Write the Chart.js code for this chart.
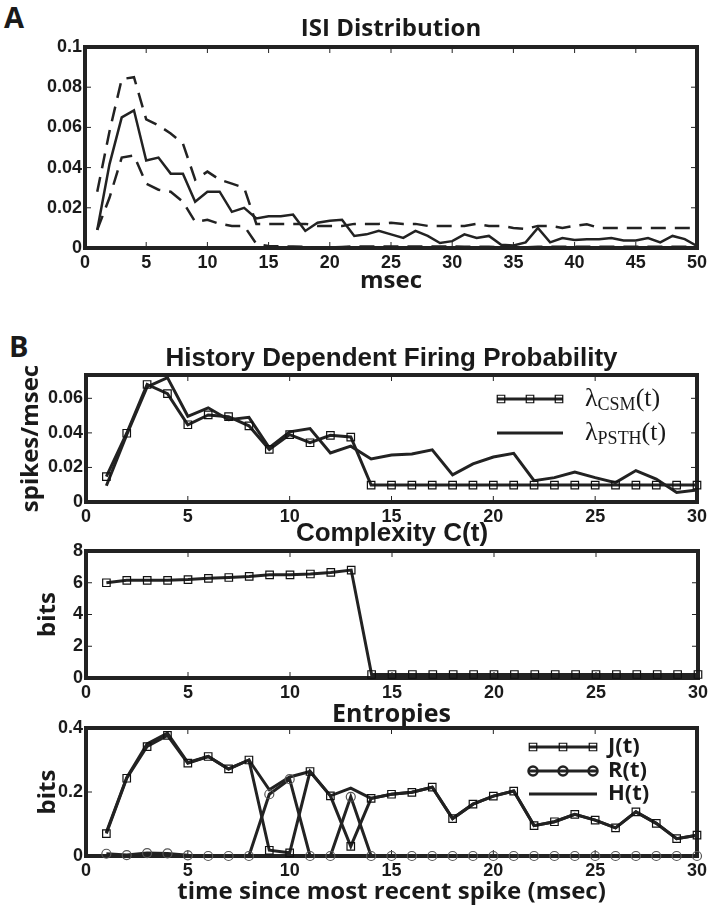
<!DOCTYPE html>
<html>
<head>
<meta charset="utf-8">
<script src="https://cdn.jsdelivr.net/npm/chart.js@4.4.0/dist/chart.umd.min.js"></script>
<style>
    body { margin: 0; background: #fff; }
    #figure { position: relative; width: 713px; height: 907px; background: #fff; overflow: hidden; }
    #figure canvas { position: absolute; left: 0; }
    .panel-letter { position: absolute; font: bold 29px "Open Sans", sans-serif; color: #1a1a1a; line-height: 30px; }
</style>
</head>
<body>
<div id="figure">
    <div class="panel-letter" style="left:4px; top:2px;">A</div>
    <div class="panel-letter" style="left:9px; top:331px;">B</div>
    <canvas id="isi_chart" width="713" height="300" style="top:0px;"></canvas>
    <canvas id="firing_chart" width="713" height="195" style="top:330px;"></canvas>
    <canvas id="complexity_chart" width="713" height="200" style="top:500px;"></canvas>
    <canvas id="entropy_chart" width="713" height="217" style="top:690px;"></canvas>
</div>
<script>
// ---- data ----
// A: ISI distribution (mean and confidence bounds)
const isiMsec = [1, 2, 3, 4, 5, 6, 7, 8, 9, 10, 11, 12, 13, 14, 15, 16, 17, 18, 19, 20, 21, 22, 23, 24, 25,
    26, 27, 28, 29, 30, 31, 32, 33, 34, 35, 36, 37, 38, 39, 40, 41, 42, 43, 44, 45, 46, 47, 48, 49, 50];
const isiMean = [0.009, 0.0416, 0.065, 0.0685, 0.0435, 0.045, 0.037, 0.037, 0.023, 0.028, 0.028, 0.018, 0.020,
    0.0147, 0.0158, 0.0158, 0.0166, 0.0085, 0.0126, 0.0135, 0.014, 0.006, 0.0068, 0.0086, 0.0068, 0.005,
    0.0085, 0.006, 0.0025, 0.0034, 0.0068, 0.005, 0.006, 0.0016, 0.0013, 0.0028, 0.010, 0.0028, 0.005,
    0.004, 0.0044, 0.0044, 0.005, 0.0037, 0.0037, 0.005, 0.0028, 0.006, 0.0044, 0.001];
const isiUpper = [0.028, 0.058, 0.084, 0.085, 0.064, 0.061, 0.057, 0.052, 0.034, 0.038, 0.034, 0.032, 0.030,
    0.012, 0.012, 0.012, 0.012, 0.012, 0.011, 0.011, 0.011, 0.012, 0.012, 0.012, 0.0125, 0.012, 0.012,
    0.011, 0.011, 0.011, 0.011, 0.012, 0.011, 0.011, 0.010, 0.0095, 0.011, 0.011, 0.010, 0.011, 0.0118,
    0.010, 0.010, 0.010, 0.010, 0.010, 0.010, 0.010, 0.010, 0.010];
const isiLower = [0.009, 0.025, 0.045, 0.046, 0.032, 0.029, 0.028, 0.023, 0.013, 0.014, 0.012, 0.011, 0.011,
    0.002, 0.001, 0.0008, 0.0008, 0.0005, 0.0003, 0.0003, 0.0005, 0.0008, 0.0008, 0.0008, 0.0008, 0.0008,
    0.0008, 0.0008, 0.0008, 0.0008, 0.0006, 0.0006, 0.0006, 0.0004, 0.0003, 0.0004, 0.0006, 0.0006, 0.0006,
    0.0006, 0.0006, 0.0006, 0.0006, 0.0006, 0.0006, 0.0006, 0.0006, 0.0006, 0.0006, 0.0006];
const isiXTicks = [0, 5, 10, 15, 20, 25, 30, 35, 40, 45, 50];
const isiYTicks = [0, 0.02, 0.04, 0.06, 0.08, 0.1];

// B: time since most recent spike
const lagMsec = [1, 2, 3, 4, 5, 6, 7, 8, 9, 10, 11, 12, 13, 14, 15, 16, 17, 18, 19, 20, 21, 22, 23, 24, 25,
    26, 27, 28, 29, 30];
const lagXTicks = [0, 5, 10, 15, 20, 25, 30];

const lambdaCsm = [0.0147, 0.0398, 0.068, 0.0627, 0.0447, 0.0504, 0.0494, 0.0441, 0.0304, 0.039, 0.0343,
    0.0386, 0.0376, 0.0098, 0.0098, 0.0098, 0.0098, 0.0098, 0.0098, 0.0098, 0.0098, 0.0098, 0.0098, 0.0098,
    0.0098, 0.0098, 0.0098, 0.0098, 0.0098, 0.0098];
const lambdaPsth = [0.0094, 0.039, 0.0666, 0.072, 0.0496, 0.0545, 0.0476, 0.049, 0.0314, 0.0406, 0.0425,
    0.0284, 0.0323, 0.0249, 0.0272, 0.0278, 0.0302, 0.0157, 0.0221, 0.026, 0.0282, 0.0123, 0.0141, 0.0174,
    0.0141, 0.0112, 0.0182, 0.0133, 0.0055, 0.007];
const firingYTicks = [0, 0.02, 0.04, 0.06];

const complexity = [6.0, 6.15, 6.15, 6.15, 6.2, 6.28, 6.33, 6.4, 6.5, 6.5, 6.55, 6.65, 6.8, 0.22, 0.22,
    0.22, 0.22, 0.22, 0.22, 0.22, 0.22, 0.22, 0.22, 0.22, 0.22, 0.22, 0.22, 0.22, 0.22, 0.22];
const complexityYTicks = [0, 2, 4, 6, 8];

const entropyJ = [0.070, 0.243, 0.342, 0.377, 0.290, 0.311, 0.272, 0.300, 0.018, 0.010, 0.264, 0.188, 0.030,
    0.180, 0.193, 0.199, 0.215, 0.117, 0.162, 0.187, 0.203, 0.095, 0.107, 0.130, 0.112, 0.088, 0.138, 0.102,
    0.054, 0.065];
const entropyR = [0.007, 0.003, 0.009, 0.008, 0.002, 0, 0, 0, 0.193, 0.240, 0, 0, 0.185, 0, 0, 0, 0, 0, 0,
    0, 0, 0, 0, 0, 0, 0, 0, 0, 0, 0];
const entropyH = [0.074, 0.245, 0.350, 0.384, 0.292, 0.311, 0.272, 0.300, 0.207, 0.247, 0.264, 0.188, 0.212,
    0.180, 0.193, 0.199, 0.215, 0.117, 0.162, 0.187, 0.203, 0.095, 0.107, 0.130, 0.112, 0.088, 0.138, 0.102,
    0.054, 0.065];
const entropyYTicks = [0, 0.2, 0.4];

// ---- styling ----
const TEXT = '#1a1a1a';
const INK = '#222';
const tickFont = { family: 'Liberation Sans', size: 18, weight: 'bold' };
const labelFont = { family: 'Open Sans', size: 24, weight: 'bold' };

const toPoints = (xs, ys) => xs.map((x, i) => ({ x, y: ys[i] }));

// thick box round the plot area plus small inward ticks on all four sides
const framePlugin = {
    id: 'frame',
    beforeDatasetsDraw(chart) {
        const { ctx, chartArea: a, scales: { x, y } } = chart;
        ctx.save();
        ctx.strokeStyle = INK;
        ctx.lineWidth = 1;
        ctx.beginPath();
        x.ticks.forEach(t => {
            const px = x.getPixelForValue(t.value);
            ctx.moveTo(px, a.bottom); ctx.lineTo(px, a.bottom - 6);
            ctx.moveTo(px, a.top); ctx.lineTo(px, a.top + 6);
        });
        y.ticks.forEach(t => {
            const py = y.getPixelForValue(t.value);
            ctx.moveTo(a.left, py); ctx.lineTo(a.left + 6, py);
            ctx.moveTo(a.right, py); ctx.lineTo(a.right - 6, py);
        });
        ctx.stroke();
        ctx.lineWidth = 4;
        ctx.strokeRect(a.left, a.top, a.width, a.height);
        ctx.restore();
    }
};

// legend with a short line and three markers per entry, like the matlab one
const lineLegendPlugin = {
    id: 'lineLegend',
    afterDatasetsDraw(chart, args, opts) {
        if (!opts.items) return;
        const ctx = chart.ctx;
        opts.items.forEach(item => {
            const ds = chart.data.datasets[item.dataset];
            ctx.save();
            ctx.strokeStyle = ds.borderColor;
            ctx.lineWidth = ds.borderWidth;
            ctx.beginPath();
            ctx.moveTo(opts.x0, item.y);
            ctx.lineTo(opts.x1, item.y);
            ctx.stroke();
            if (ds.pointRadius > 0) {
                ctx.strokeStyle = item.markerColor || ds.pointBorderColor;
                ctx.lineWidth = item.markerWidth || ds.pointBorderWidth;
                const r = ds.pointRadius;
                [opts.x0 + 4, (opts.x0 + opts.x1) / 2, opts.x1 - 4].forEach(px => {
                    ctx.beginPath();
                    if (ds.pointStyle === 'rect') {
                        const h = r * Math.SQRT1_2;
                        ctx.rect(px - h, item.y - h, 2 * h, 2 * h);
                    } else {
                        ctx.arc(px, item.y, r, 0, Math.PI * 2);
                    }
                    ctx.stroke();
                });
            }
            // label, with optional subscript parts
            ctx.fillStyle = TEXT;
            ctx.textBaseline = 'middle';
            let tx = opts.textX;
            item.parts.forEach(part => {
                ctx.font = part.font;
                ctx.fillText(part.text, tx, item.y + (part.dy || 0));
                tx += ctx.measureText(part.text).width;
            });
            ctx.restore();
        });
    }
};

// the panel title sits on an empty top axis so it is centred over the plot box, as in matlab
function panelOptions(p) {
    const xMin = p.xTicks[0], xMax = p.xTicks[p.xTicks.length - 1];
    return {
        responsive: false,
        animation: false,
        layout: { padding: { left: 0, right: p.right, top: 0, bottom: 0 } },
        plugins: {
            legend: { display: false },
            tooltip: { enabled: false },
            lineLegend: p.legend || {}
        },
        scales: {
            x: {
                type: 'linear', min: xMin, max: xMax,
                afterBuildTicks: s => { s.ticks = p.xTicks.map(v => ({ value: v })); },
                afterFit: s => { s.height = p.xHeight; },
                grid: { display: false, drawTicks: false },
                border: { display: false },
                ticks: { color: TEXT, font: tickFont, padding: 4, maxRotation: 0, autoSkip: false, callback: v => String(v) },
                title: p.xTitle
                    ? { display: true, text: p.xTitle, color: TEXT, font: labelFont, padding: { top: 0, bottom: p.xTitlePad } }
                    : { display: false }
            },
            titleAxis: {
                type: 'linear', position: 'top', min: xMin, max: xMax,
                afterFit: s => { s.height = p.plotTop; },
                grid: { display: false, drawTicks: false },
                border: { display: false },
                ticks: { display: false },
                title: { display: true, text: p.title, color: TEXT, font: p.titleFont, padding: { top: p.titlePad, bottom: 0 } }
            },
            y: {
                type: 'linear', min: 0, max: p.yMax,
                afterBuildTicks: s => { s.ticks = p.yTicks.map(v => ({ value: v })); },
                afterFit: s => { s.width = p.yWidth; },
                grid: { display: false, drawTicks: false },
                border: { display: false },
                ticks: { color: TEXT, font: tickFont, padding: 3, autoSkip: false, callback: v => String(v) },
                title: p.yTitle
                    ? { display: true, text: p.yTitle, color: TEXT, font: labelFont, padding: { top: p.yTitlePad, bottom: 0 } }
                    : { display: false }
            }
        }
    };
}

function lineSet(label, xs, ys, extra) {
    return Object.assign({
        label,
        data: toPoints(xs, ys),
        borderColor: INK,
        borderWidth: 3,
        pointRadius: 0,
        tension: 0,
        clip: false
    }, extra || {});
}

const squareMarks = { pointStyle: 'rect', pointRadius: 5.3, pointBorderColor: '#111', pointBorderWidth: 1.2, pointBackgroundColor: 'rgba(0,0,0,0)' };
const circleMarks = { pointStyle: 'circle', pointRadius: 4.5, pointBorderColor: '#555', pointBorderWidth: 1.2, pointBackgroundColor: 'rgba(0,0,0,0)' };

// ---- A: ISI distribution ----
new Chart(document.getElementById('isi_chart'), {
    type: 'line',
    data: {
        datasets: [
            lineSet('mean', isiMsec, isiMean, { borderWidth: 2.5 }),
            lineSet('upper', isiMsec, isiUpper, { borderWidth: 2.5, borderDash: [15, 9] }),
            lineSet('lower', isiMsec, isiLower, { borderWidth: 2.5, borderDash: [15, 9] })
        ]
    },
    options: panelOptions({
        title: 'ISI Distribution', titleFont: { family: 'Open Sans', size: 24, weight: 'bold' },
        plotTop: 47, titlePad: 14.6, right: 16,
        xTicks: isiXTicks, xHeight: 52, xTitle: 'msec', xTitlePad: 4.6,
        yTicks: isiYTicks, yMax: 0.1, yWidth: 85
    }),
    plugins: [framePlugin]
});

// ---- B: history dependent firing probability ----
const serifBig = '26px "Liberation Serif"';
const serifSub = '18px "Liberation Serif"';
new Chart(document.getElementById('firing_chart'), {
    type: 'line',
    data: {
        datasets: [
            lineSet('CSM', lagMsec, lambdaCsm, squareMarks),
            lineSet('PSTH', lagMsec, lambdaPsth)
        ]
    },
    options: panelOptions({
        title: 'History Dependent Firing Probability', titleFont: { family: 'Liberation Sans', size: 26, weight: 'bold' },
        plotTop: 45, titlePad: 13.4, right: 16,
        xTicks: lagXTicks, xHeight: 23,
        yTicks: firingYTicks, yMax: 0.0735, yWidth: 86, yTitle: 'spikes/msec', yTitlePad: 17,
        legend: {
            x0: 497, x1: 563, textX: 585,
            items: [
                { dataset: 0, y: 69, parts: [{ text: 'λ', font: serifBig }, { text: 'CSM', font: serifSub, dy: 6 }, { text: '(t)', font: serifBig }] },
                { dataset: 1, y: 103, parts: [{ text: 'λ', font: serifBig }, { text: 'PSTH', font: serifSub, dy: 6 }, { text: '(t)', font: serifBig }] }
            ]
        }
    }),
    plugins: [framePlugin, lineLegendPlugin]
});

// ---- B: complexity ----
new Chart(document.getElementById('complexity_chart'), {
    type: 'line',
    data: {
        datasets: [lineSet('C(t)', lagMsec, complexity, squareMarks)]
    },
    options: panelOptions({
        title: 'Complexity C(t)', titleFont: { family: 'Liberation Sans', size: 26, weight: 'bold' },
        plotTop: 51, titlePad: 18.4, right: 15,
        xTicks: lagXTicks, xHeight: 22,
        yTicks: complexityYTicks, yMax: 8, yWidth: 86, yTitle: 'bits', yTitlePad: 34
    }),
    plugins: [framePlugin]
});

// ---- B: entropies ----
const legendSans = 'bold 22px "Open Sans"';
new Chart(document.getElementById('entropy_chart'), {
    type: 'line',
    data: {
        datasets: [
            lineSet('J(t)', lagMsec, entropyJ, squareMarks),
            lineSet('R(t)', lagMsec, entropyR, circleMarks),
            lineSet('H(t)', lagMsec, entropyH)
        ]
    },
    options: panelOptions({
        title: 'Entropies', titleFont: { family: 'Open Sans', size: 25, weight: 'bold' },
        plotTop: 38, titlePad: 10, right: 16,
        xTicks: lagXTicks, xHeight: 51, xTitle: 'time since most recent spike (msec)', xTitlePad: 0.5,
        yTicks: entropyYTicks, yMax: 0.4, yWidth: 86, yTitle: 'bits', yTitlePad: 34,
        legend: {
            x0: 529, x1: 597, textX: 608,
            items: [
                { dataset: 0, y: 57, parts: [{ text: 'J(t)', font: legendSans }] },
                { dataset: 1, y: 81, markerColor: '#222', markerWidth: 2.5, parts: [{ text: 'R(t)', font: legendSans }] },
                { dataset: 2, y: 104, parts: [{ text: 'H(t)', font: legendSans }] }
            ]
        }
    }),
    plugins: [framePlugin, lineLegendPlugin]
});
</script>
</body>
</html>
